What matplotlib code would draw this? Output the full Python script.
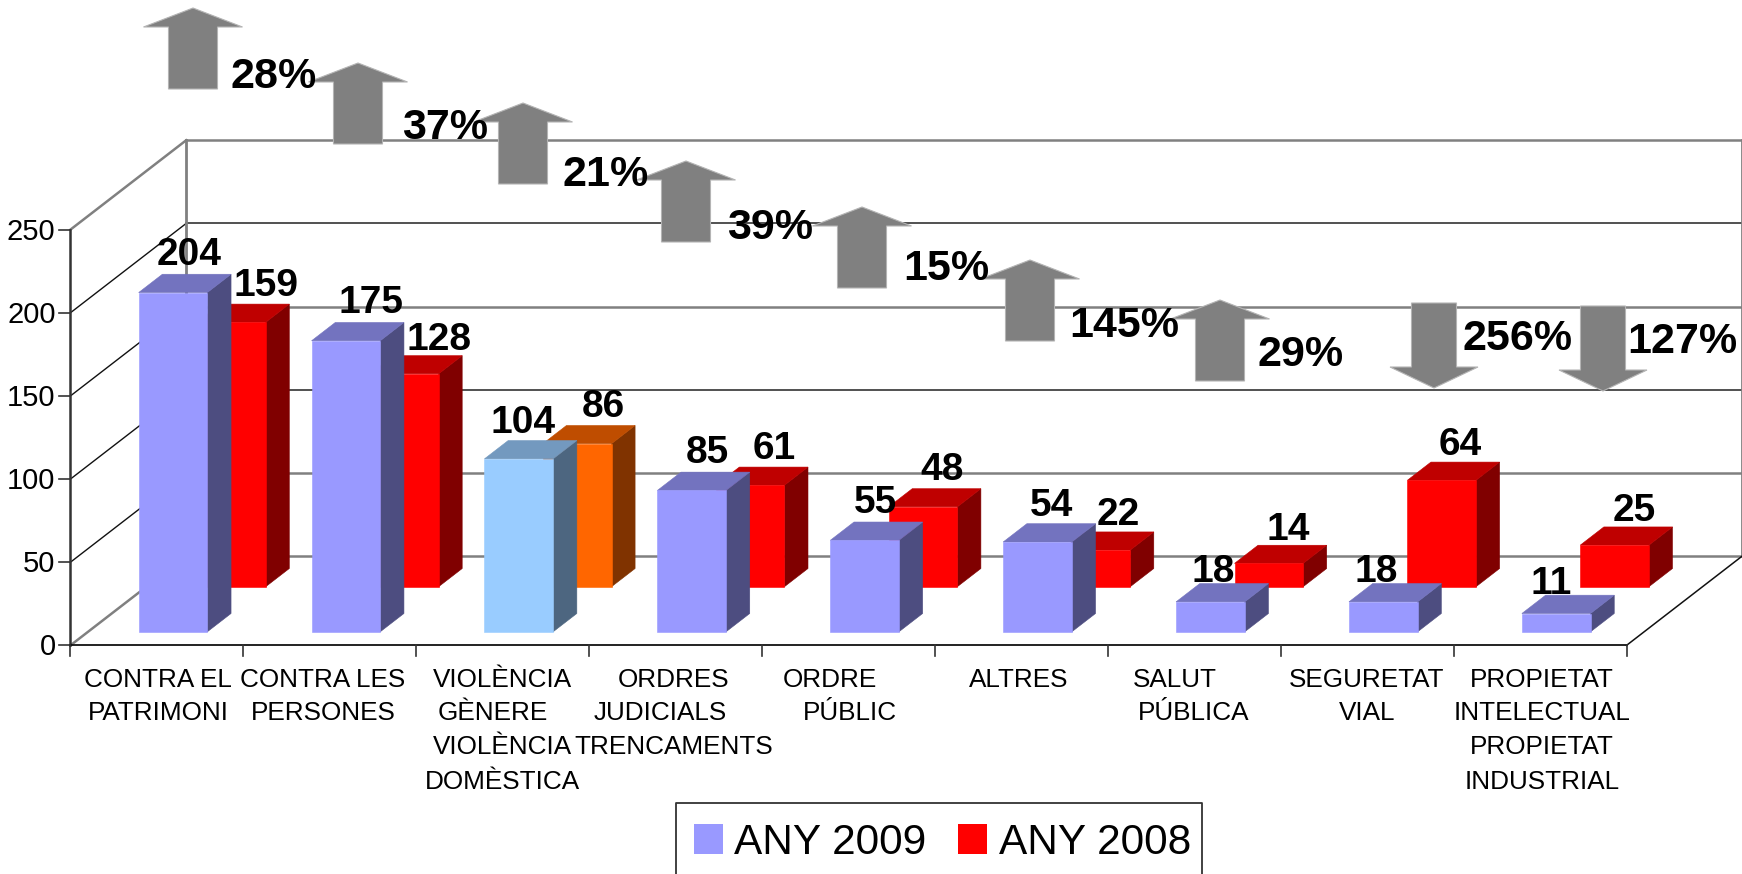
import matplotlib
matplotlib.use("Agg")
import matplotlib.pyplot as plt
from matplotlib.patches import Patch, Polygon

plt.rcParams['font.family'] = ['Liberation Sans', 'DejaVu Sans']

# data
categories = [
    ["CONTRA EL", "PATRIMONI"],
    ["CONTRA LES", "PERSONES"],
    ["VIOLÈNCIA", "GÈNERE", "VIOLÈNCIA", "DOMÈSTICA"],
    ["ORDRES", "JUDICIALS", "TRENCAMENTS"],
    ["ORDRE", "PÚBLIC"],
    ["ALTRES"],
    ["SALUT", "PÚBLICA"],
    ["SEGURETAT", "VIAL"],
    ["PROPIETAT", "INTELECTUAL", "PROPIETAT", "INDUSTRIAL"],
]
any_2009 = [204, 175, 104, 85, 55, 54, 18, 18, 11]
any_2008 = [159, 128, 86, 61, 48, 22, 14, 64, 25]
y_ticks = [0, 50, 100, 150, 200, 250]
changes = ["28%", "37%", "21%", "39%", "15%", "145%", "29%", "256%", "127%"]
directions = ["up", "up", "up", "up", "up", "up", "up", "down", "down"]

# layout, all in pixels of the picture
W, H = 1742, 874
X0, Y0 = 70.4, 645.4
CAT_W = 172.9
UNIT = 1.663
DEPTH_X, DEPTH_Y = 115.8, 89.4

# text centres, pixels
label_x = [
    [158, 158],
    [323, 323],
    [502, 493, 502, 502],
    [674, 660, 674],
    [830, 850],
    [1019],
    [1175, 1194],
    [1367, 1367],
    [1542, 1542, 1542, 1542],
]
line_y = [680, 713, 747, 782]
pos_2009 = [(189, 255), (371, 303), (523, 423), (707, 453), (875, 503), (1052, 506), (1213, 572), (1376, 572), (1551, 584)]
pos_2008 = [(266, 286), (439, 340), (603, 407), (774, 449), (942, 470), (1118, 515), (1288, 530), (1460, 445), (1634, 511)]
# apex x, apex y of the arrows and where their % text goes
arrow_pos = [(193, 8), (358, 63), (523, 103), (686, 161), (862, 207), (1030, 260), (1220, 300), (1434, 388), (1603, 391)]
change_pos = [(274, 77), (445, 128), (606, 175), (770, 228), (946, 269), (1124, 326), (1301, 355), (1518, 339), (1682, 342)]


def data_x(px):
    return (px - X0) / CAT_W


def data_y(py):
    return (Y0 - py) / UNIT


def project(x, v, d):
    # front plane point pushed back by d (0 to 1) along the depth
    return x + d * DEPTH_X / CAT_W, v + d * DEPTH_Y / UNIT


def shade(c, f):
    return tuple(i * f for i in matplotlib.colors.to_rgb(c))


def bar3d(ax, x0, width, val, d0, d1, color):
    a = project(x0, 0, d0)
    b = project(x0 + width, 0, d0)
    c = project(x0 + width, val, d0)
    e = project(x0, val, d0)
    f = project(x0, val, d1)
    g = project(x0 + width, val, d1)
    h = project(x0 + width, 0, d1)
    for pts, col in [([b, c, g, h], shade(color, 0.5)),
                     ([e, c, g, f], shade(color, 0.75)),
                     ([a, b, c, e], shade(color, 1))]:
        ax.add_patch(Polygon(pts, closed=True, fc=col, ec=col, lw=0.4, zorder=3))


fig = plt.figure(figsize=(W / 100, H / 100), dpi=100)
ax = fig.add_axes([0, 0, 1, 1])
ax.set_xlim(data_x(0), data_x(W))
ax.set_ylim(data_y(H), data_y(0))
ax.axis('off')

# walls and gridlines
n = len(categories)
for t in y_ticks:
    thick = t in (0, 50, 150, 250)
    col = "#808080" if thick else "#222222"
    lw = 1.8 if thick else 1.1
    ax.plot(*zip(project(0, t, 1), project(n, t, 1)), color=col, lw=lw, zorder=1)
    diag = "#808080" if t in (0, 250) else "#111111"
    ax.plot(*zip(project(0, t, 0), project(0, t, 1)), color=diag, lw=1.8 if t in (0, 250) else 1, zorder=1)
    ax.plot([data_x(59), 0], [t, t], color="#333333", lw=1.2, zorder=1)
    ax.text(data_x(55.5), data_y(Y0 - t * UNIT + 2), str(t), ha='right', va='center', fontsize=21, zorder=5)

ax.plot(*zip(project(0, 0, 1), project(0, 250, 1)), color="#808080", lw=2, zorder=1)
ax.plot(*zip(project(n, 0, 1), project(n, 250, 1)), color="#808080", lw=2, zorder=1)
ax.plot(*zip(project(n, 0, 0), project(n, 0, 1)), color="#111111", lw=1.1, zorder=1)
ax.plot([0, 0], [0, 250], color="#333333", lw=1.8, zorder=2)
ax.plot([0, n], [0, 0], color="#111111", lw=1.3, zorder=2)
for i in range(n + 1):
    ax.plot([i, i], [0, data_y(Y0 + 11)], color="#333333", lw=1.2, zorder=2)

# bars, the 2008 row sits behind
x_off = 0.293
bar_w = 0.397
for i in range(n):
    col = "#FF6600" if i == 2 else "#FF0000"
    bar3d(ax, i + x_off, bar_w, any_2008[i], 0.657, 0.86, col)
for i in range(n):
    col = "#99CCFF" if i == 2 else "#9999FF"
    bar3d(ax, i + x_off, bar_w, any_2009[i], 0.152, 0.357, col)

for i in range(n):
    ax.text(data_x(pos_2009[i][0]), data_y(pos_2009[i][1]), str(any_2009[i]), ha='center', va='center',
            fontsize=28, fontweight='bold', zorder=6)
    ax.text(data_x(pos_2008[i][0]), data_y(pos_2008[i][1]), str(any_2008[i]), ha='center', va='center',
            fontsize=28, fontweight='bold', zorder=6)
    for j, line in enumerate(categories[i]):
        ax.text(data_x(label_x[i][j]), data_y(line_y[j]), line, ha='center', va='center', fontsize=18.8, zorder=6)

# change arrows
for (ax_px, ay_px), d, txt, tp in zip(arrow_pos, directions, changes, change_pos):
    if d == "up":
        s, head, shaft, head_len, length = 1, 49.5, 24.5, 19, 81
    else:
        s, head, shaft, head_len, length = -1, 44, 22.5, 21, 85
    outline = [(0, 0), (head, head_len * s), (shaft, head_len * s), (shaft, length * s),
               (-shaft, length * s), (-shaft, head_len * s), (-head, head_len * s)]
    pts = [(data_x(ax_px + a), data_y(ay_px + b)) for a, b in outline]
    ax.add_patch(Polygon(pts, closed=True, fc="#808080", ec="#B4B4B4", lw=0.8, zorder=4))
    ax.text(data_x(tp[0]), data_y(tp[1]), txt, ha='center', va='center', fontsize=31, fontweight='bold', zorder=6)

# legend, its frame runs off the bottom of the picture
frame_x = [data_x(675.5), data_x(675.5), data_x(1202), data_x(1202)]
frame_y = [data_y(H + 5), data_y(802.7), data_y(802.7), data_y(H + 5)]
ax.plot(frame_x, frame_y, color="#333333", lw=1.3, zorder=5)
handles = [Patch(fc="#9999FF", ec="none", label="ANY 2009"), Patch(fc="#FF0000", ec="none", label="ANY 2008")]
leg = ax.legend(handles=handles, ncol=2, loc='upper left', bbox_to_anchor=(694 / W, 1 - 823 / H),
                bbox_transform=fig.transFigure, fontsize=30.5, frameon=False, borderaxespad=0, borderpad=0,
                handlelength=0.69, handleheight=0.69, handletextpad=0.26, columnspacing=0.75)
leg.set_zorder(7)

fig.savefig("out.png", dpi=100)
